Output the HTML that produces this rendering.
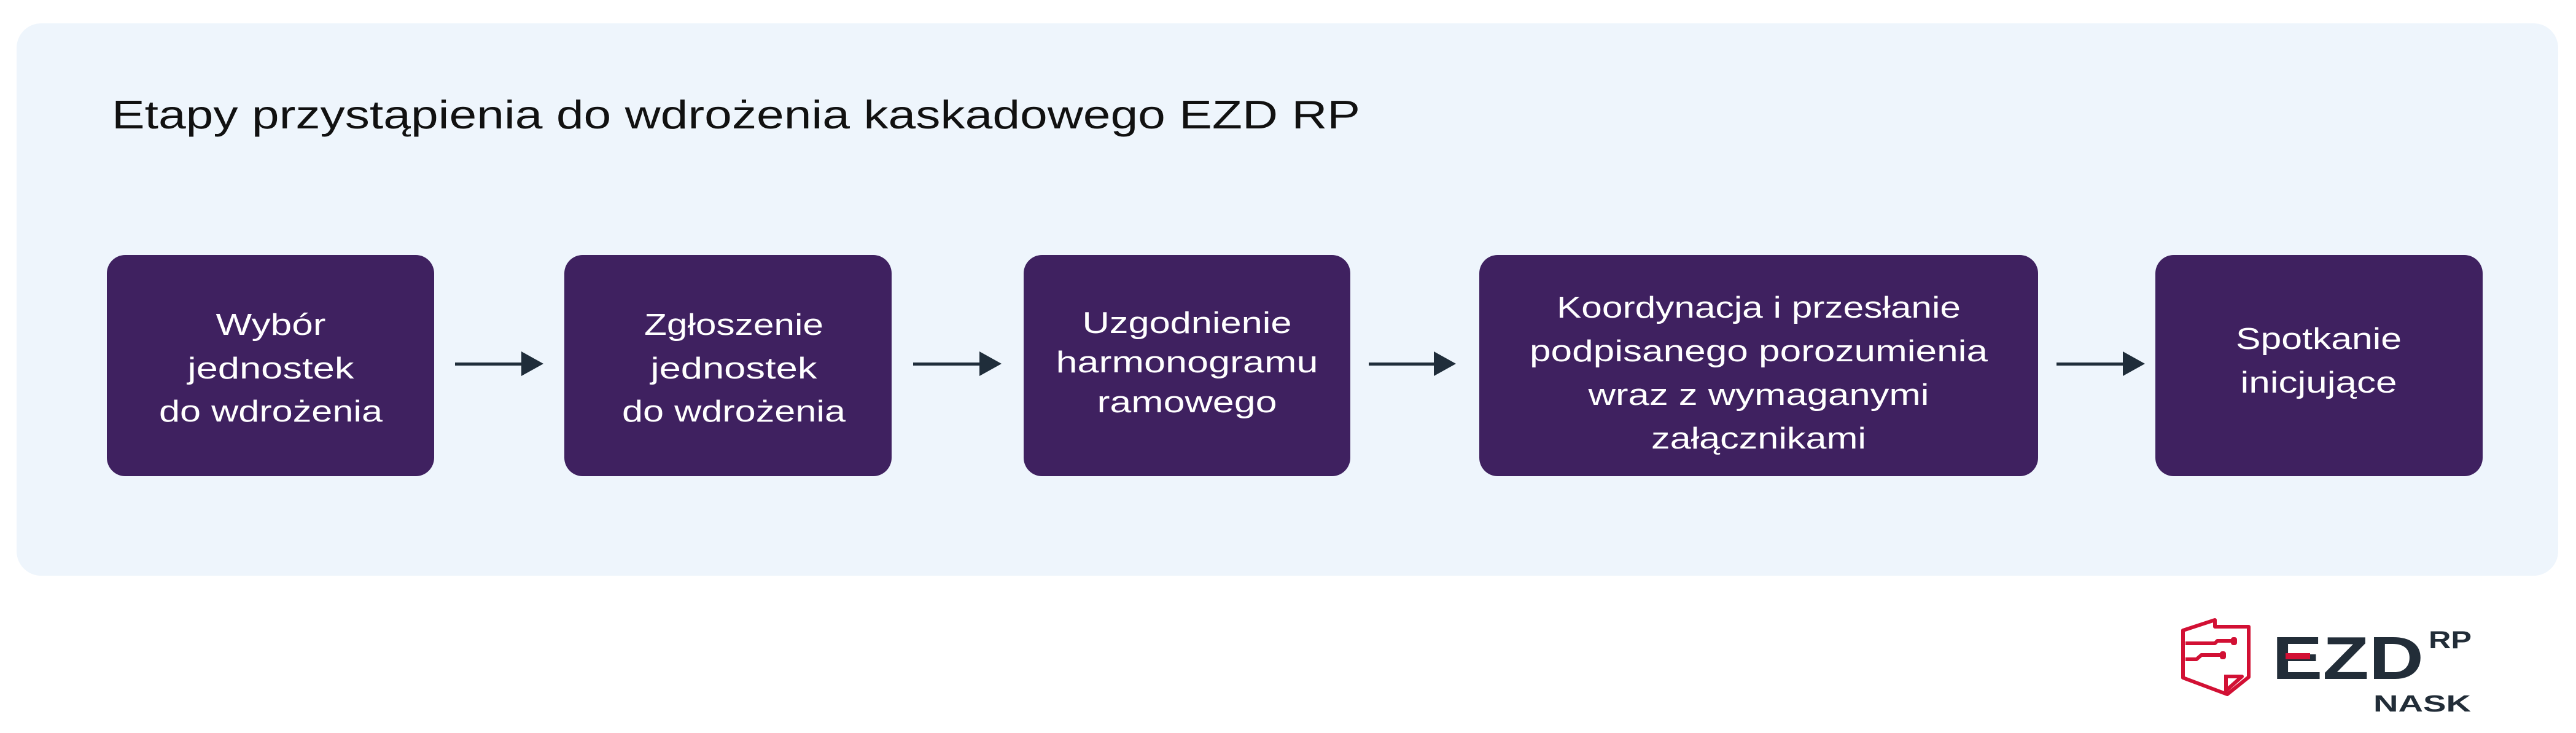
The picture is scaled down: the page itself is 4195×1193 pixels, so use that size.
<!DOCTYPE html>
<html><head><meta charset="utf-8"><style>
html,body{margin:0;padding:0;background:#fff;}
svg{display:block}
text{font-family:"Liberation Sans",sans-serif;}
</style></head><body>
<svg width="4195" height="1193" viewBox="0 0 4195 1193" xmlns="http://www.w3.org/2000/svg">
<rect x="27" y="38" width="4139" height="899" rx="40" fill="#eef5fc"/>
<text x="182" y="209" font-size="65" fill="#111" textLength="2033" lengthAdjust="spacingAndGlyphs">Etapy przystąpienia do wdrożenia kaskadowego EZD RP</text>

<g fill="#3f2160">
<rect x="174" y="415" width="533" height="360" rx="30"/>
<rect x="919" y="415" width="533" height="360" rx="30"/>
<rect x="1667" y="415" width="532" height="360" rx="30"/>
<rect x="2409" y="415" width="910" height="360" rx="30"/>
<rect x="3510" y="415" width="533" height="360" rx="30"/>
</g>

<g fill="#fff" font-size="49" text-anchor="middle" lengthAdjust="spacingAndGlyphs">
<text x="441" y="545" textLength="179" lengthAdjust="spacingAndGlyphs">Wybór</text>
<text x="441" y="616" textLength="271" lengthAdjust="spacingAndGlyphs">jednostek</text>
<text x="441" y="686" textLength="364" lengthAdjust="spacingAndGlyphs">do wdrożenia</text>

<text x="1195" y="545" textLength="292" lengthAdjust="spacingAndGlyphs">Zgłoszenie</text>
<text x="1195" y="616" textLength="271" lengthAdjust="spacingAndGlyphs">jednostek</text>
<text x="1195" y="686" textLength="364" lengthAdjust="spacingAndGlyphs">do wdrożenia</text>

<text x="1933" y="542" textLength="341" lengthAdjust="spacingAndGlyphs">Uzgodnienie</text>
<text x="1933" y="606" textLength="427" lengthAdjust="spacingAndGlyphs">harmonogramu</text>
<text x="1933" y="671" textLength="293" lengthAdjust="spacingAndGlyphs">ramowego</text>

<text x="2864" y="517" textLength="658" lengthAdjust="spacingAndGlyphs">Koordynacja i przesłanie</text>
<text x="2864" y="588" textLength="746" lengthAdjust="spacingAndGlyphs">podpisanego porozumienia</text>
<text x="2864" y="659" textLength="555" lengthAdjust="spacingAndGlyphs">wraz z wymaganymi</text>
<text x="2864" y="730" textLength="350" lengthAdjust="spacingAndGlyphs">załącznikami</text>

<text x="3776" y="568" textLength="270" lengthAdjust="spacingAndGlyphs">Spotkanie</text>
<text x="3776" y="639" textLength="255" lengthAdjust="spacingAndGlyphs">inicjujące</text>
</g>

<g fill="#1f2d3a">
<rect x="741" y="590" width="108" height="5"/><polygon points="849,572 849,612 885,592"/>
<rect x="1487" y="590" width="108" height="5"/><polygon points="1595,572 1595,612 1631,592"/>
<rect x="2229" y="590" width="108" height="5"/><polygon points="2335,572 2335,612 2371,592"/>
<rect x="3349" y="590" width="108" height="5"/><polygon points="3457,572 3457,612 3493,592"/>
</g>

<!-- logo -->
<g fill="none" stroke="#d21034" stroke-width="6" stroke-linejoin="round">
<polygon points="3555,1026 3607,1009 3607,1020 3662,1020 3662,1102 3627,1130 3555,1103"/>
<polyline points="3625,1098 3625,1124 3651,1101 3625,1101"/>
<polyline points="3559,1047 3607,1047 3611,1043 3636,1043"/>
<polyline points="3559,1073 3577,1073 3585,1066 3618,1066"/>
</g>
<g fill="#d21034">
<rect x="3633" y="1037" width="10" height="13" rx="4"/>
<rect x="3615" y="1060" width="10" height="13" rx="4"/>
</g>
<text x="3700" y="1105" font-size="98" font-weight="bold" fill="#222d38" textLength="247" lengthAdjust="spacingAndGlyphs">EZD</text>
<rect x="3722" y="1063" width="40" height="10" fill="#d21034"/>
<text x="3955" y="1055" font-size="40" font-weight="bold" fill="#222d38" textLength="70" lengthAdjust="spacingAndGlyphs">RP</text>
<text x="3865" y="1158" font-size="38" font-weight="bold" fill="#222d38" textLength="159" lengthAdjust="spacingAndGlyphs">NASK</text>
</svg>
</body></html>
